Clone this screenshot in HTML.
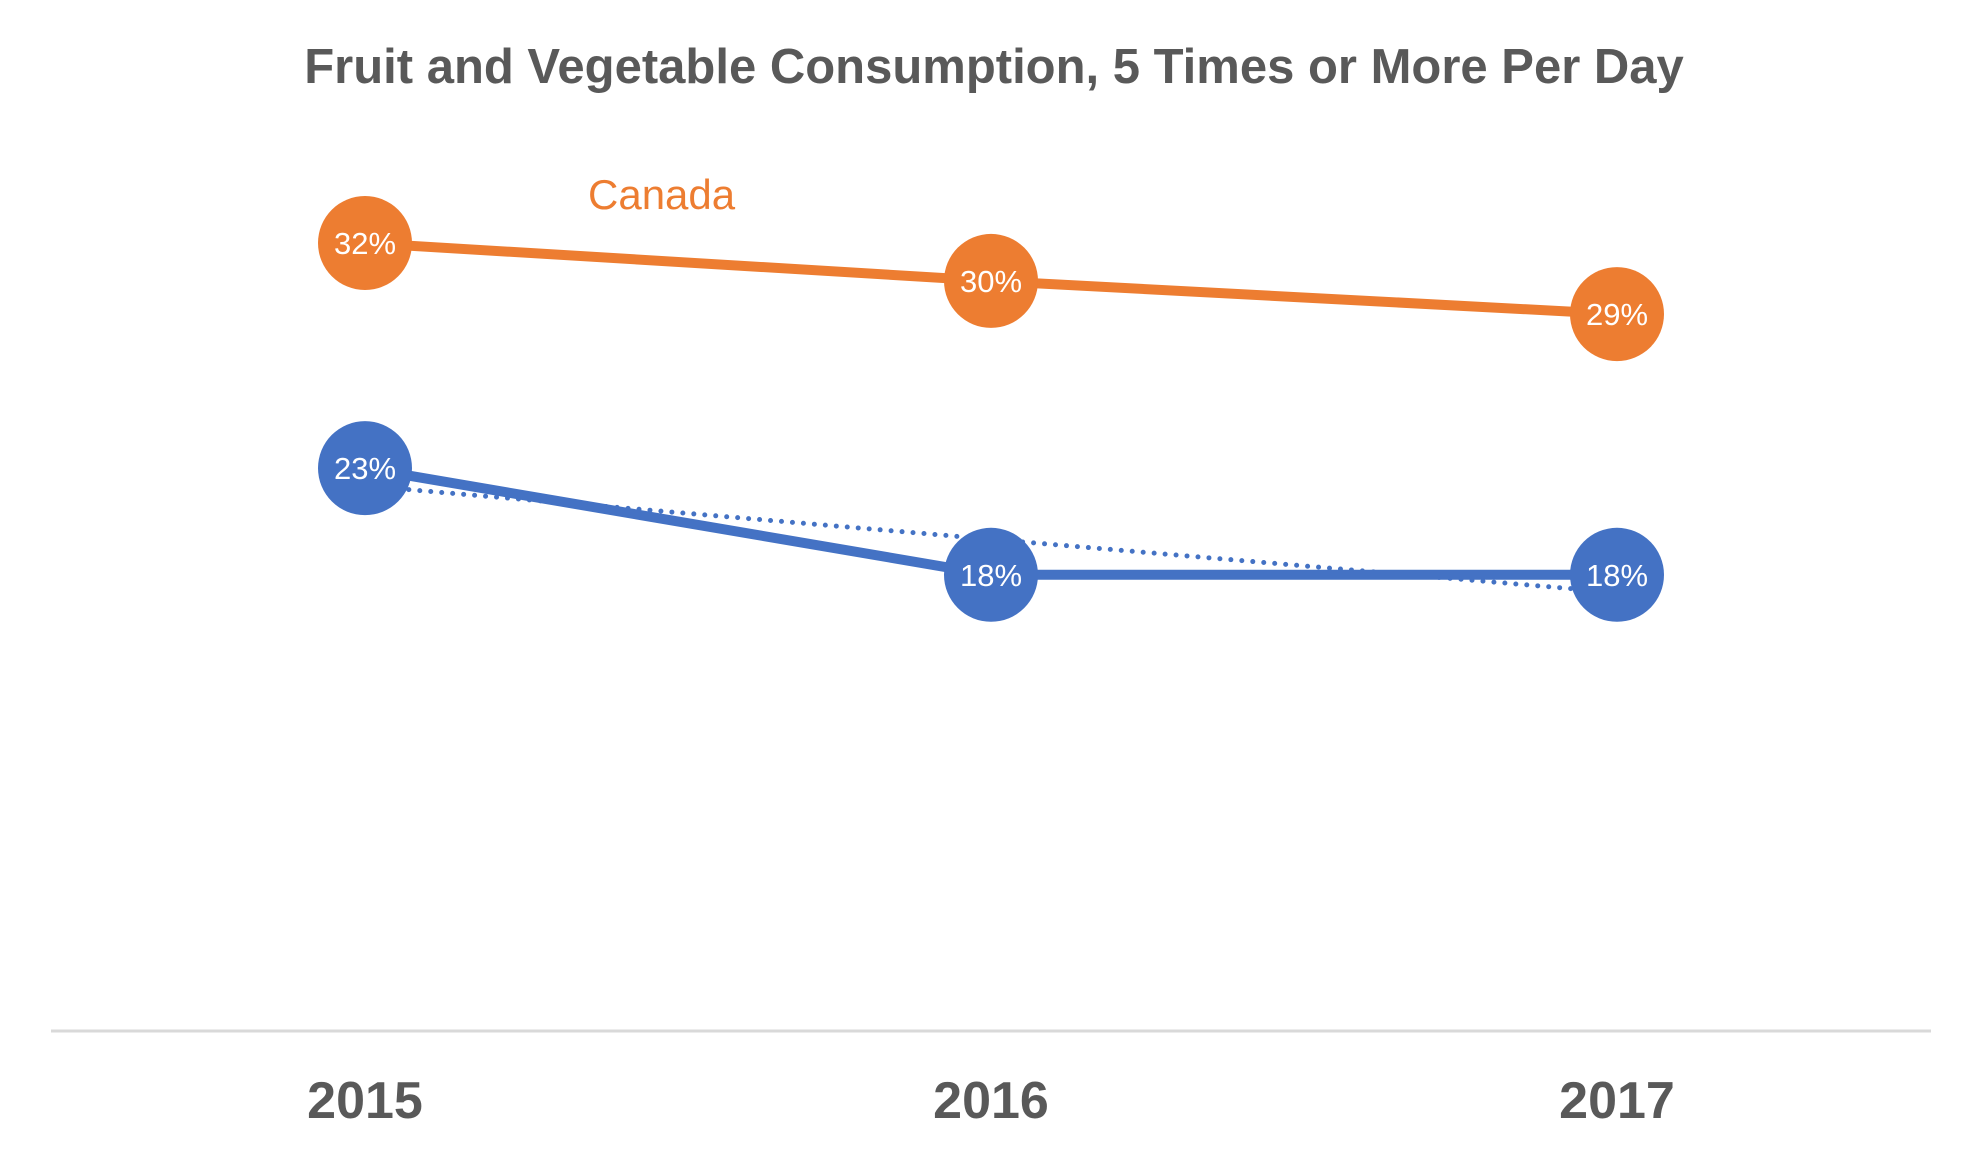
<!DOCTYPE html>
<html><head><meta charset="utf-8"><style>
body{margin:0;background:#fff;}
svg{display:block;font-family:"Liberation Sans",sans-serif;}
</style></head><body>
<svg id="chart" width="1982" height="1157" viewBox="0 0 1982 1157">
<text x="994" y="83" text-anchor="middle" font-size="49" font-weight="bold" fill="#595959">Fruit and Vegetable Consumption, 5 Times or More Per Day</text>
<text x="588" y="209" font-size="42" fill="#ED7D31">Canada</text>
<line x1="51" y1="1031" x2="1931" y2="1031" stroke="#d9d9d9" stroke-width="3"/>
<g id="plot"></g>
</svg>
<script>
const categories = ["2015","2016","2017"];
const canadaValues = [32.0, 30.4, 29.0];
const otherValues = [22.5, 18.0, 18.0];
const canadaLabels = ["32%","30%","29%"];
const otherLabels = ["23%","18%","18%"];

const NS="http://www.w3.org/2000/svg";
const g=document.getElementById('plot');
const svg=document.getElementById('chart');
function xScale(i){return 365+i*626;}
function yScale(v){return 243+(32-v)*23.7;}
function mk(tag,attrs){const e=document.createElementNS(NS,tag);for(const k in attrs)e.setAttribute(k,attrs[k]);return e;}

function drawSeries(vals,color,name){
  const pts=vals.map((v,i)=>xScale(i)+','+yScale(v)).join(' ');
  const pl=mk('polyline',{points:pts,fill:'none',stroke:color,'stroke-width':10,'stroke-linejoin':'round'});
  
  
  g.appendChild(pl);
}
function drawMarkers(vals,labels,color,name){
  vals.forEach((v,i)=>{
    const c=mk('circle',{cx:xScale(i),cy:yScale(v),r:47,fill:color});
    
    
    g.appendChild(c);
    const t=mk('text',{x:xScale(i),y:yScale(v)+11,'text-anchor':'middle','font-size':31,fill:'#fff'});
    
    
    t.textContent=labels[i];
    g.appendChild(t);
  });
}
drawSeries(canadaValues,'#ED7D31','canada');
drawSeries(otherValues,'#4472C4','region');
const n=otherValues.length;
const mx=(n-1)/2;
const my=otherValues.reduce((a,b)=>a+b,0)/n;
let num=0,den=0;
otherValues.forEach((v,i)=>{num+=(i-mx)*(v-my);den+=(i-mx)*(i-mx);});
const slope=num/den;
const t0=my-slope*mx, t1=my+slope*(n-1-mx);
const tl=mk('line',{x1:xScale(0),y1:yScale(t0),x2:xScale(n-1),y2:yScale(t1),stroke:'#4472C4','stroke-width':5,'stroke-dasharray':'0 11','stroke-linecap':'round'});


g.appendChild(tl);
drawMarkers(canadaValues,canadaLabels,'#ED7D31','canada');
drawMarkers(otherValues,otherLabels,'#4472C4','region');
categories.forEach((c,i)=>{
  const t=mk('text',{x:xScale(i),y:1118,'text-anchor':'middle','font-size':52,'font-weight':'bold',fill:'#595959'});
  
  
  t.textContent=c;
  svg.appendChild(t);
});
</script>
</body></html>
